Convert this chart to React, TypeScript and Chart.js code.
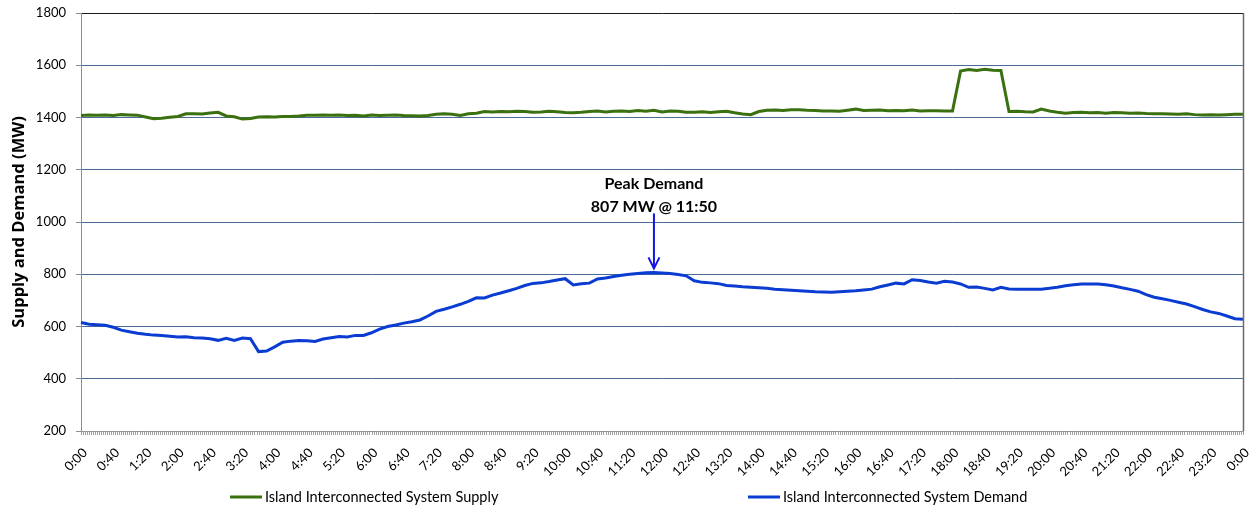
import React, { useEffect, useRef } from 'react';
import { Chart, registerables } from 'chart.js';

Chart.register(...registerables);

const categories: string[] = [
  '0:00','0:10','0:20','0:30','0:40','0:50','1:00','1:10','1:20','1:30','1:40','1:50',
  '2:00','2:10','2:20','2:30','2:40','2:50','3:00','3:10','3:20','3:30','3:40','3:50',
  '4:00','4:10','4:20','4:30','4:40','4:50','5:00','5:10','5:20','5:30','5:40','5:50',
  '6:00','6:10','6:20','6:30','6:40','6:50','7:00','7:10','7:20','7:30','7:40','7:50',
  '8:00','8:10','8:20','8:30','8:40','8:50','9:00','9:10','9:20','9:30','9:40','9:50',
  '10:00','10:10','10:20','10:30','10:40','10:50','11:00','11:10','11:20','11:30','11:40','11:50',
  '12:00','12:10','12:20','12:30','12:40','12:50','13:00','13:10','13:20','13:30','13:40','13:50',
  '14:00','14:10','14:20','14:30','14:40','14:50','15:00','15:10','15:20','15:30','15:40','15:50',
  '16:00','16:10','16:20','16:30','16:40','16:50','17:00','17:10','17:20','17:30','17:40','17:50',
  '18:00','18:10','18:20','18:30','18:40','18:50','19:00','19:10','19:20','19:30','19:40','19:50',
  '20:00','20:10','20:20','20:30','20:40','20:50','21:00','21:10','21:20','21:30','21:40','21:50',
  '22:00','22:10','22:20','22:30','22:40','22:50','23:00','23:10','23:20','23:30','23:40','23:50',
  '0:00 '
];

const tickLabels: string[] = [
  '0:00','0:40','1:20','2:00','2:40','3:20','4:00','4:40','5:20','6:00','6:40','7:20',
  '8:00','8:40','9:20','10:00','10:40','11:20','12:00','12:40','13:20','14:00','14:40','15:20',
  '16:00','16:40','17:20','18:00','18:40','19:20','20:00','20:40','21:20','22:00','22:40','23:20',
  '0:00'
];

const supply: number[] = [
  1408,1410,1409,1410,1408,1411,1410,1409,1402,1395,1397,1401,
  1404,1414,1414,1413,1417,1420,1406,1403,1394,1396,1402,1403,
  1402,1404,1404,1406,1409,1409,1410,1409,1410,1408,1409,1406,
  1410,1408,1409,1410,1408,1407,1406,1408,1412,1414,1412,1408,
  1414,1416,1423,1421,1423,1422,1424,1423,1420,1421,1424,1422,
  1419,1418,1420,1423,1425,1421,1424,1425,1423,1427,1424,1428,
  1421,1425,1424,1420,1420,1422,1419,1422,1424,1418,1413,1411,
  1423,1428,1429,1427,1430,1430,1428,1427,1425,1425,1424,1428,
  1432,1427,1428,1429,1426,1427,1426,1429,1425,1426,1426,1425,
  1425,1578,1584,1580,1585,1581,1580,1423,1424,1422,1421,1432,
  1425,1420,1416,1419,1420,1418,1419,1416,1419,1418,1416,1417,
  1415,1414,1414,1413,1412,1414,1411,1410,1411,1410,1411,1412,
  1412
];

const demand: number[] = [
  615,609,607,605,597,586,580,574,570,567,566,563,
  560,561,557,556,553,547,555,547,556,553,504,506,
  522,540,544,546,545,543,552,557,562,560,566,566,
  576,590,600,606,613,618,625,640,658,666,675,685,
  696,710,709,720,728,737,746,757,765,767,772,778,
  783,759,764,766,782,786,791,796,800,803,806,807,
  805,803,799,794,775,769,767,764,757,755,752,750,
  748,746,743,741,739,737,735,733,732,731,733,735,
  737,740,743,752,759,766,763,779,776,770,766,773,
  770,763,750,751,746,740,750,744,743,743,743,743,
  746,750,756,760,763,763,763,760,755,748,742,735,
  722,712,706,700,693,686,676,665,656,650,640,630,
  628
];

const seriesNames: string[] = [
  'Island Interconnected System Supply',
  'Island Interconnected System Demand'
];

const peakIndex = 71;
const peakLines: string[] = ['Peak Demand', '807 MW @ 11:50'];

const supplyColor = '#3B7010';
const demandColor = '#0A3CD2';
const arrowColor = '#1414E6';
const FONT = 'Lato, "Open Sans", sans-serif';

const overlayPlugin = {
  id: 'overlay',
  afterDraw(chart: any) {
    const ctx: CanvasRenderingContext2D = chart.ctx;
    const area = chart.chartArea;
    const xs = chart.scales.x;
    const ys = chart.scales.y;
    ctx.save();
    // right border
    ctx.strokeStyle = '#6b6b6b';
    ctx.lineWidth = 1.5;
    ctx.beginPath();
    ctx.moveTo(area.right + 0.5, area.top);
    ctx.lineTo(area.right + 0.5, area.bottom);
    ctx.stroke();

    // dense minor ticks under the category axis
    ctx.strokeStyle = '#a0a0a0';
    ctx.lineWidth = 1;
    ctx.beginPath();
    const n = categories.length;
    for (let i = 0; i < n - 1; i++) {
      const a = xs.getPixelForValue(i);
      const b = xs.getPixelForValue(i + 1);
      for (let k = 0; k < 4; k++) {
        const x = Math.round(a + ((b - a) * k) / 4) + 0.5;
        ctx.moveTo(x, area.bottom);
        ctx.lineTo(x, area.bottom + 4);
      }
    }
    const xe = Math.round(xs.getPixelForValue(n - 1)) + 0.5;
    ctx.moveTo(xe, area.bottom);
    ctx.lineTo(xe, area.bottom + 4);
    ctx.stroke();

    // peak annotation
    const px = xs.getPixelForValue(peakIndex);
    const py = ys.getPixelForValue(demand[peakIndex]);
    const tip = py - 4;
    const start = tip - 55;
    ctx.strokeStyle = arrowColor;
    ctx.lineWidth = 2;
    ctx.beginPath();
    ctx.moveTo(px, start);
    ctx.lineTo(px, tip - 2);
    ctx.stroke();
    ctx.beginPath();
    ctx.moveTo(px - 5.5, tip - 11);
    ctx.lineTo(px, tip);
    ctx.lineTo(px + 5.5, tip - 11);
    ctx.stroke();
    ctx.fillStyle = '#000';
    ctx.font = 'bold 16px ' + FONT;
    ctx.textAlign = 'center';
    ctx.textBaseline = 'middle';
    ctx.fillText(peakLines[0], px, start - 30);
    ctx.fillText(peakLines[1], px, start - 7);

    // legend
    const ly = 497;
    const items = [
      { label: seriesNames[0], color: supplyColor, x: 230 },
      { label: seriesNames[1], color: demandColor, x: 748 },
    ];
    ctx.font = '14.5px ' + FONT;
    ctx.textAlign = 'left';
    items.forEach((it) => {
      ctx.strokeStyle = it.color;
      ctx.lineWidth = 3;
      ctx.beginPath();
      ctx.moveTo(it.x, ly);
      ctx.lineTo(it.x + 32, ly);
      ctx.stroke();
      ctx.fillStyle = '#000';
      ctx.fillText(it.label, it.x + 35, ly);
    });
    ctx.restore();
  },
};

export default function App() {
  const ref = useRef<HTMLCanvasElement | null>(null);
  useEffect(() => {
    document.body.style.margin = '0';
    if (!ref.current) return;
    const chart = new Chart(ref.current, {
      type: 'line',
      data: {
        labels: categories,
        datasets: [
          {
            label: seriesNames[0],
            data: supply,
            borderColor: supplyColor,
            backgroundColor: supplyColor,
            borderWidth: 3,
            pointRadius: 0,
            tension: 0,
          },
          {
            label: seriesNames[1],
            data: demand,
            borderColor: demandColor,
            backgroundColor: demandColor,
            borderWidth: 3,
            pointRadius: 0,
            tension: 0,
          },
        ],
      },
      options: {
        animation: false,
        responsive: false,
        maintainAspectRatio: false,
        layout: { padding: { top: 13, right: 8, left: 0, bottom: 0 } },
        plugins: { legend: { display: false }, tooltip: { enabled: false } },
        scales: {
          x: {
            type: 'category',
            offset: false,
            grid: {
              display: true,
              drawOnChartArea: false,
              drawTicks: true,
              tickLength: 4,
              tickColor: 'rgba(0,0,0,0)',
            },
            border: { display: true, color: '#8c8c8c' },
            ticks: {
              autoSkip: false,
              maxRotation: 45,
              minRotation: 45,
              padding: 10,
              labelOffset: 4,
              color: '#000',
              font: { family: FONT, size: 13 },
              callback: (_v: any, i: number) => (i % 4 === 0 ? tickLabels[i / 4] : ''),
            },
            afterFit: (s: any) => {
              s.height = 77;
              s.paddingLeft = 0;
              s.paddingRight = 0;
            },
          },
          y: {
            min: 200,
            max: 1800,
            ticks: {
              stepSize: 200,
              color: '#000',
              padding: 10,
              font: { family: FONT, size: 13 },
              callback: (v: any) => String(v),
            },
            grid: {
              color: (c: any) => (c.tick && c.tick.value === 1800 ? '#1a1a1a' : '#4A6A98'),
              tickColor: '#8c8c8c',
              tickLength: 5,
            },
            border: { display: true, color: '#8c8c8c' },
            title: {
              display: true,
              text: 'Supply and Demand (MW)',
              color: '#000',
              font: { family: '"Open Sans", Lato, sans-serif', size: 16.5, weight: 'bold' },
              padding: { top: 9, bottom: 2 },
            },
            afterFit: (s: any) => {
              s.width = 81;
              s.paddingTop = 0;
              s.paddingBottom = 0;
            },
          },
        },
      },
      plugins: [overlayPlugin],
    });
    return () => chart.destroy();
  }, []);
  return (
    <div style={{ position: 'absolute', left: 0, top: 0, width: 1251, height: 508, background: '#fff' }}>
      <canvas ref={ref} width={1251} height={508} style={{ width: 1251, height: 508 }} />
    </div>
  );
}
